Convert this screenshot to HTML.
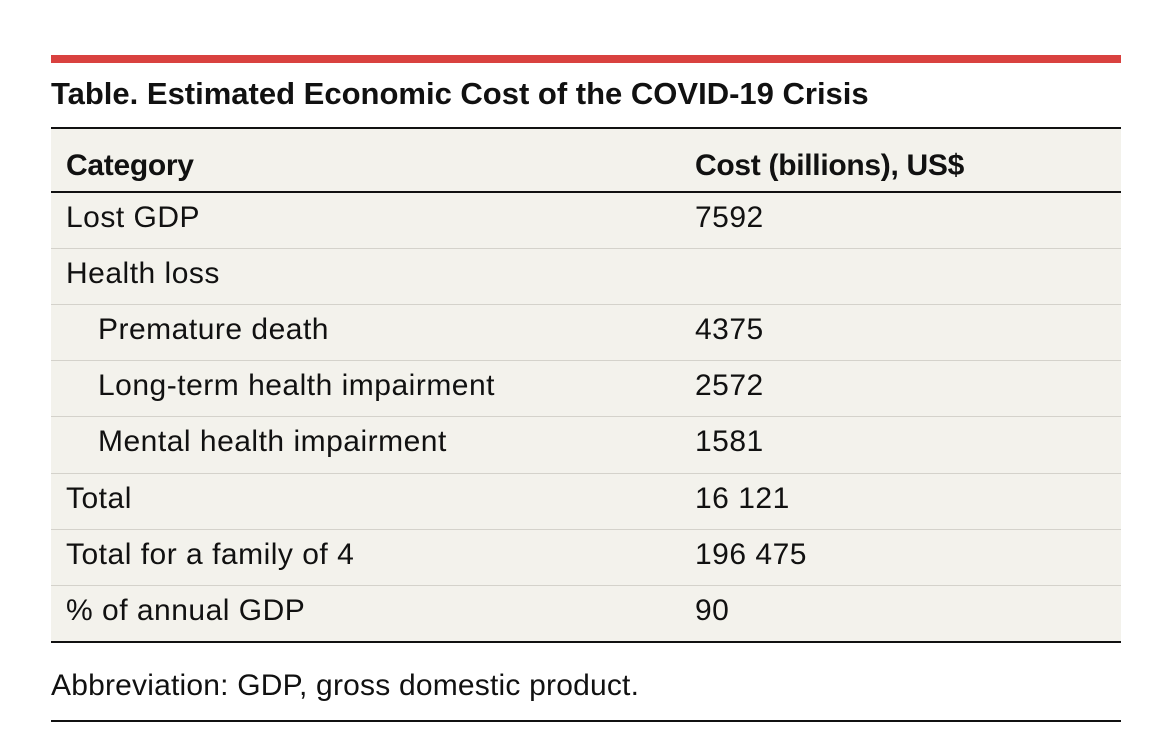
<!DOCTYPE html>
<html><head><meta charset="utf-8"><style>
body{margin:0;width:1161px;height:753px;background:#fff;font-family:"Liberation Sans",sans-serif;color:#111;position:relative;overflow:hidden}
.a{position:absolute}
.t{position:absolute;font-size:30px;line-height:1;white-space:nowrap;letter-spacing:0.5px}
</style></head><body>
<div class="a" style="left:51px;top:55px;width:1070px;height:8px;background:#d9413f"></div>
<div class="t" style="left:51px;top:78px;font-size:31px;font-weight:bold;letter-spacing:0px">Table. Estimated Economic Cost of the COVID-19 Crisis</div>
<div class="a" style="left:51px;top:127px;width:1070px;height:516px;background:#f3f2ec;border-top:2px solid #111;border-bottom:2px solid #111;box-sizing:border-box"></div>
<div class="a" style="left:51px;top:191px;width:1070px;height:2px;background:#111"></div>
<div class="t" style="left:66px;top:151px;font-weight:bold;letter-spacing:-0.3px">Category</div>
<div class="t" style="left:695px;top:151px;font-weight:bold;letter-spacing:-0.3px">Cost (billions), US$</div>
<div id="rows"></div>
<div class="t" style="left:51px;top:671px;letter-spacing:0.2px">Abbreviation: GDP, gross domestic product.</div>
<div class="a" style="left:51px;top:720px;width:1070px;height:2px;background:#111"></div>
<script>
const labels=["Lost GDP","Health loss","Premature death","Long-term health impairment","Mental health impairment","Total","Total for a family of 4","% of annual GDP"];
const values=["7592","","4375","2572","1581","16 121","196 475","90"];
const indent=[0,0,1,1,1,0,0,0];
const c=document.getElementById('rows');
labels.forEach((l,i)=>{
  const top=193+i*56.1;
  if(i>0){const r=document.createElement('div');r.className='a';
  
  
  r.style.cssText=`left:51px;top:${top-1}px;width:1070px;height:1px;background:#d4d2cb`;c.appendChild(r);}
  const a=document.createElement('div');a.className='t';
  
  
  a.style.left=(indent[i]?98:66)+'px';a.style.top=(top+10)+'px';a.textContent=l;c.appendChild(a);
  const b=document.createElement('div');b.className='t';
  
  
  b.style.left='695px';b.style.top=(top+10)+'px';b.textContent=values[i];c.appendChild(b);
});
</script>
</body></html>
